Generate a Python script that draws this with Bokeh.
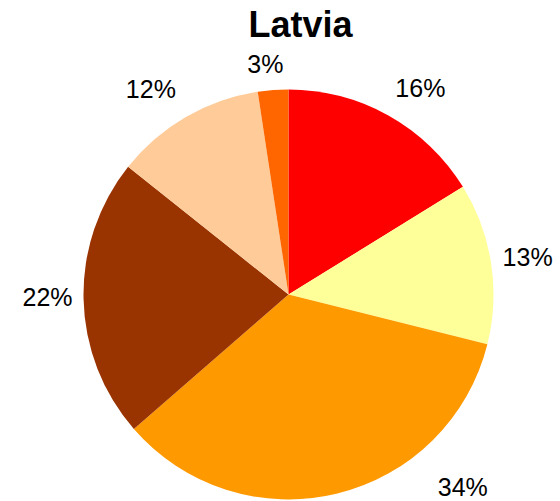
import math
from bokeh.plotting import figure
from bokeh.models import Range1d, ColumnDataSource
from bokeh.core.properties import value
from bokeh.embed import file_html
from bokeh.resources import INLINE

# ---- data ----
title_text = "Latvia"
categories = ["A", "B", "C", "D", "E", "F"]
shares = [16.2, 12.7, 34.7, 22.1, 11.9, 2.4]
labels = ["16%", "13%", "34%", "22%", "12%", "3%"]
colors = ["#FF0000", "#FFFF99", "#FF9900", "#993300", "#FFCC99", "#FF6600"]

# ---- layout ----
W, H = 560, 501
R_PX = 205.0
CX, CY = 288.0, 294.0  # pie centre in figure pixels (from top-left)
s = R_PX

x0 = -CX / s
x1 = (W - CX) / s
y0 = -(H - CY) / s
y1 = CY / s

p = figure(width=W, height=H, output_backend="svg", toolbar_location=None,
           x_range=Range1d(x0, x1), y_range=Range1d(y0, y1),
           min_border=0, min_border_left=0, min_border_right=0,
           min_border_top=0, min_border_bottom=0)
p.axis.visible = False
p.grid.visible = False
p.outline_line_color = None
p.background_fill_color = "white"
p.border_fill_color = "white"

total = sum(shares)
starts, ends, mids = [], [], []
cum = 0.0
for v in shares:
    a0 = cum / total
    cum += v
    a1 = cum / total
    starts.append(math.pi / 2 - 2 * math.pi * a0)
    ends.append(math.pi / 2 - 2 * math.pi * a1)
    mids.append((a0 + a1) / 2)

src = ColumnDataSource(dict(cat=categories, start=starts, end=ends, color=colors))
p.wedge(x=0, y=0, radius=1.0, start_angle="start", end_angle="end",
        direction="clock", fill_color="color", line_color=None, source=src)

# label placement (layout tweaks, degrees / radii)
angle_adj = [3.4, 0.0, -28.6, 0.6, -3.8, -1.4]
rad = [245, 242, 260, 241, 247, 232]
lx, ly = [], []
for m, da, rr in zip(mids, angle_adj, rad):
    ang = math.radians(m * 360 + da)
    lx.append(math.sin(ang) * rr / s)
    ly.append(math.cos(ang) * rr / s)

p.text(x=lx, y=ly, text=labels, text_align="center", text_baseline="middle",
       text_font=value("Liberation Sans"), text_font_size="25px", text_color="#000000")

# title
p.text(x=[(300 - CX) / s], y=[(CY - 24) / s], text=[title_text],
       text_align="center", text_baseline="middle",
       text_font=value("Liberation Sans"), text_font_size="36px",
       text_font_style="bold", text_color="#000000")

open("out.html", "w").write(file_html(p, INLINE))
